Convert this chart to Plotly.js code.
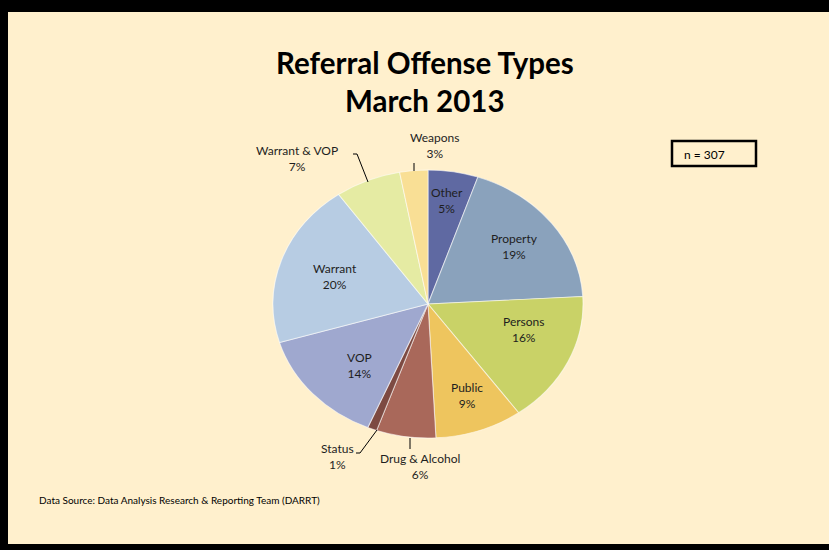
<!DOCTYPE html>
<html>
<head>
<meta charset="utf-8">
<script src="https://cdn.plot.ly/plotly-3.0.1.min.js"></script>
<style>
  html, body { margin: 0; padding: 0; background: #fff0cd; }
  #wrap { position: relative; width: 829px; height: 550px; overflow: hidden; background: #fff0cd; }
  #pie { position: absolute; left: 0; top: 0; width: 829px; height: 550px;
         transform-origin: 428px 304px; transform: scale(1.0764, 0.9306); }
  #over { position: absolute; left: 0; top: 0; width: 829px; height: 550px; }
</style>
</head>
<body>
<div id="wrap">
  <div id="pie"></div>
  <div id="over"></div>
</div>
<script>
// ---- data ----
const labels = ['Other', 'Property', 'Persons', 'Public', 'Drug & Alcohol', 'Status', 'VOP', 'Warrant', 'Warrant & VOP', 'Weapons'];
const counts = [16, 58, 49, 28, 19, 3, 43, 61, 21, 9];
const sliceColors = ['#5f69a2', '#8aa2bc', '#c9d267', '#eec55e', '#a9685a', '#7d4a42', '#9fa8cf', '#b7cce3', '#e5eba3', '#f9df95'];
const titleLines = ['Referral Offense Types', 'March 2013'];
const nLabel = 'n = 307';
const sourceText = 'Data Source: Data Analysis Research & Reporting Team (DARRT)';

// ---- layout helpers (pixel -> paper) ----
const W = 829, H = 550;
const px = X => X / W;
const py = Y => 1 - Y / H;
const FONT = 'Lato, "Open Sans", sans-serif';

const total = counts.reduce((a, b) => a + b, 0);

// pie (drawn circular, squashed by CSS into the tilted ellipse of the reference)
const cx = 428, cy = 304, R = 144;
Plotly.newPlot('pie', [{
  type: 'pie',
  labels: labels,
  values: counts,
  sort: false,
  direction: 'clockwise',
  rotation: 0,
  textinfo: 'none',
  hoverinfo: 'none',
  marker: { colors: sliceColors, line: { color: 'rgba(255,255,255,0.55)', width: 1 } },
  domain: { x: [px(cx - R), px(cx + R)], y: [py(cy + R), py(cy - R)] },
  showlegend: false
}], {
  width: W, height: H,
  margin: { l: 0, r: 0, t: 0, b: 0 },
  paper_bgcolor: 'rgba(0,0,0,0)',
  plot_bgcolor: 'rgba(0,0,0,0)',
  showlegend: false
}, { staticPlot: true, displayModeBar: false });

// label positions (pixel centres) for each slice label
const labelPos = [[447, 200], [514, 246], [523, 329], [467, 395], [420, 466], [337, 456], [359, 365], [335, 276], [297, 158], [434, 146]];

const annotations = labels.map((lab, i) => ({
  xref: 'paper', yref: 'paper',
  x: px(labelPos[i][0]), y: py(labelPos[i][1]),
  xanchor: 'center', yanchor: 'middle',
  text: lab + '<br>' + Math.round(100 * counts[i] / total) + '%',
  showarrow: false,
  font: { family: FONT, size: 12, color: '#1e1e1e' }
}));

annotations.push({
  xref: 'paper', yref: 'paper', x: px(425), y: py(62), xanchor: 'center', yanchor: 'middle',
  text: '<b>' + titleLines[0] + '</b>', showarrow: false,
  font: { family: FONT, size: 29.5, color: '#000' }
});
annotations.push({
  xref: 'paper', yref: 'paper', x: px(425), y: py(100), xanchor: 'center', yanchor: 'middle',
  text: '<b>' + titleLines[1] + '</b>', showarrow: false,
  font: { family: FONT, size: 29.5, color: '#000' }
});
annotations.push({
  xref: 'paper', yref: 'paper', x: px(682), y: py(154), xanchor: 'left', yanchor: 'middle',
  text: nLabel, showarrow: false,
  font: { family: FONT, size: 12, color: '#000' }
});
annotations.push({
  xref: 'paper', yref: 'paper', x: px(37), y: py(500), xanchor: 'left', yanchor: 'middle',
  text: sourceText, showarrow: false,
  font: { family: FONT, size: 10, color: '#000' }
});

function seg(x0, y0, x1, y1, w) {
  return { type: 'line', xref: 'paper', yref: 'paper', x0: px(x0), y0: py(y0), x1: px(x1), y1: py(y1),
           line: { color: '#000', width: w || 1 } };
}
function rect(x0, y0, x1, y1, fill, lw) {
  return { type: 'rect', xref: 'paper', yref: 'paper', x0: px(x0), y0: py(y0), x1: px(x1), y1: py(y1),
           fillcolor: fill, line: { color: '#000', width: lw } };
}

const shapes = [
  // frame
  rect(0, 0, 829, 12, '#000', 0),
  rect(0, 0, 8, 550, '#000', 0),
  rect(0, 544, 829, 550, '#000', 0),
  // n box
  rect(672, 141, 756, 166, 'rgba(0,0,0,0)', 2.5),
  // leader lines
  seg(414, 163, 414, 171),
  seg(353, 154, 357, 154), seg(357, 154, 368, 182),
  seg(356, 453, 360, 453), seg(360, 453, 377, 430),
  seg(410, 438, 410, 449)
];

Plotly.newPlot('over', [], {
  width: W, height: H,
  margin: { l: 0, r: 0, t: 0, b: 0 },
  paper_bgcolor: 'rgba(0,0,0,0)',
  plot_bgcolor: 'rgba(0,0,0,0)',
  xaxis: { visible: false }, yaxis: { visible: false },
  annotations: annotations,
  shapes: shapes,
  showlegend: false
}, { staticPlot: true, displayModeBar: false });
</script>
</body>
</html>
